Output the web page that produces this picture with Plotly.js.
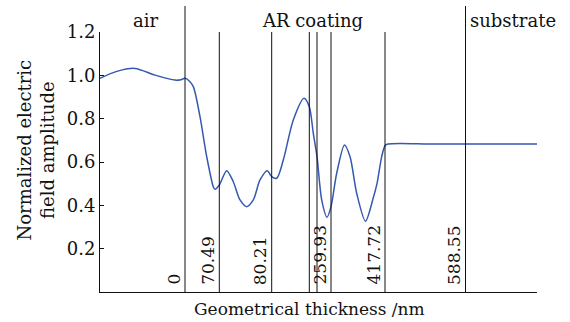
<!DOCTYPE html>
<html><head><meta charset="utf-8">
<script src="https://cdn.plot.ly/plotly-3.0.1.min.js"></script>
<style>html,body{margin:0;padding:0;background:#fff}#chart{width:570px;height:322px}</style>
</head><body><div id="chart"></div>
<script>
// curve samples (x position in plot units, normalized amplitude)
var depth = [-85,-69,-50,-30,-10,-4,0,4,8.3,15,21.7,28.3,30,34.3,41.7,48.3,55,61.7,68.3,75,82.3,86.7,91.7,98.3,108.3,119,124.3,128.3,132,136.7,142,146,151.7,159.5,165,171.7,180.5,188,192,196.7,200,203,250,352];
var amplitude = [0.986,1.017,1.032,1.001,0.978,0.980,0.986,0.975,0.948,0.809,0.625,0.486,0.474,0.494,0.560,0.509,0.425,0.394,0.425,0.517,0.560,0.532,0.525,0.609,0.794,0.894,0.855,0.732,0.625,0.425,0.345,0.394,0.548,0.679,0.625,0.456,0.327,0.43,0.50,0.625,0.675,0.683,0.683,0.683];
// layer boundaries
var boundaries = [0,34.3,86.7,124.3,132,146,200,280.5];
var tallBoundaries = [0,280.5];
var labelPositions = [0,34.3,86.7,146,200,280.5];
var labelTexts = ["0","70.49","80.21","259.93","417.72","588.55"];
var regionNames = ["air","AR coating","substrate"];
var regionCenters = [-40,127,328];
var yTicks = [0.2,0.4,0.6,0.8,1.0,1.2];
var yTickText = ["0.2","0.4","0.6","0.8","1.0","1.2"];

var F = "DejaVu Serif, Liberation Serif, serif";
var shapes = boundaries.map(function(b){
  var tall = tallBoundaries.indexOf(b) >= 0;
  return {type:'line', xref:'x', yref:'paper', x0:b, x1:b, y0:0, y1: tall ? 1.1 : 1.0,
          line:{color:'#111', width:1}};
});
var ann = labelPositions.map(function(p,i){
  return {x:p, y:0, xref:'x', yref:'y', text:labelTexts[i], showarrow:false, textangle:-90,
          xanchor:'right', yanchor:'bottom', xshift:0, yshift:5, font:{family:F, size:17, color:'#111'}};
});
regionNames.forEach(function(n,i){
  ann.push({x:regionCenters[i], y:1.045, xref:'x', yref:'paper', text:n, showarrow:false,
            xanchor:'center', yanchor:'middle', font:{family:F, size:18, color:'#111'}});
});
ann.push({x:-0.146, y:0.545, xref:'paper', yref:'paper', text:'Normalized electric<br>field amplitude',
          showarrow:false, textangle:-90, xanchor:'center', yanchor:'middle',
          font:{family:F, size:18, color:'#111'}});
ann.push({x:0.48, y:-0.065, xref:'paper', yref:'paper', text:'Geometrical thickness /nm',
          showarrow:false, xanchor:'center', yanchor:'middle', font:{family:F, size:17, color:'#111'}});

var trace = {x:depth, y:amplitude, type:'scatter', mode:'lines',
  line:{color:'#3558b0', width:1.5, shape:'spline', smoothing:0.8}, hoverinfo:'skip'};

var layout = {
  width:570, height:322, margin:{l:100, r:33, t:32, b:30},
  paper_bgcolor:'#fff', plot_bgcolor:'#fff', showlegend:false,
  xaxis:{range:[-85,352], showline:true, linecolor:'#111', linewidth:1, showgrid:false,
         zeroline:false, showticklabels:false, ticks:''},
  yaxis:{range:[0,1.2], showline:true, linecolor:'#111', linewidth:1, showgrid:false, zeroline:false,
         tickvals:yTicks, ticktext:yTickText, ticks:'inside', ticklen:4, tickcolor:'#111',
         tickfont:{family:F, size:18, color:'#111'}},
  shapes:shapes, annotations:ann
};
Plotly.newPlot('chart',[trace],layout,{staticPlot:true});
</script></body></html>
